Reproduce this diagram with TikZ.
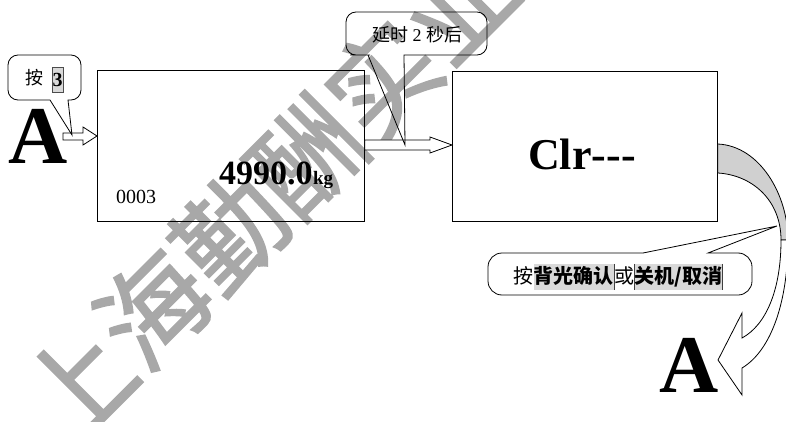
\documentclass[tikz,border=0pt]{standalone}
\usepackage{fontspec}
\setmainfont{Liberation Serif}
\newfontfamily\cjk{Noto Sans CJK SC}
\newfontfamily\cjkwm[FakeBold=1.6]{Noto Sans CJK SC}
\definecolor{hl}{RGB}{217,217,217}
\definecolor{arrowgray}{RGB}{208,208,208}
\definecolor{wmgray}{RGB}{168,168,168}
\begin{document}
\begin{tikzpicture}[x=1pt,y=-1pt,
  frame/.style={draw, line width=0.8pt, inner sep=0pt},
  callout/.style={draw, line width=0.8pt},
  hollow/.style={draw, line width=0.8pt, fill=white, line join=miter},
  txt/.style={anchor=base west, inner sep=0pt},
  hlbox/.style={anchor=base west, inner sep=0pt, fill=hl, text height=19pt, text depth=7pt},
  sideline/.style={draw=black!75, line width=0.6pt}]
\useasboundingbox (0,0) rectangle (786,422);

% watermark
\node[rotate=45, text=wmgray, inner sep=0pt, font=\cjkwm\fontsize{108}{108}\selectfont] (wm) at (268,194) {上海勤酬实业};

% boxes
\node[frame, anchor=north west, minimum width=267pt, minimum height=151pt] (box1) at (97,70) {};
\node[frame, anchor=north west, minimum width=265pt, minimum height=150pt] (box2) at (452,71) {};

% big letters
\node[txt, font=\bfseries\fontsize{82}{82}\selectfont] (A1) at (8,164) {A};
\node[txt, font=\bfseries\fontsize{82}{82}\selectfont] (A2) at (659,392) {A};

% box texts
\node[txt, font=\bfseries\fontsize{34}{34}\selectfont] (val) at (219,184) {4990.0};
\node[txt, font=\bfseries\fontsize{19}{19}\selectfont] (kg) at (val.base east) {kg};
\node[txt, font=\fontsize{20}{20}\selectfont] (num) at (116,203) {0003};
\node[txt, font=\bfseries\fontsize{44}{44}\selectfont] (clr) at (528,170) {Clr\mbox{-}\mbox{-}\mbox{-}};

% hollow arrows
\coordinate (tip1) at (box1.west |- 0,136);
\draw[hollow] (63,133) -- (83,133) -- (83,127) -- (tip1) -- (83,145) -- (83,140) -- (63,140) -- cycle;
\coordinate (tip2) at (box2.west |- 0,145);
\draw[hollow] (box1.east |- 0,140) -- (430,140) -- (430,137) -- (tip2) -- (430,153) -- (430,150) -- (box1.east |- 0,150) -- cycle;

% callout 1
\coordinate (c1tip) at (72,135);
\draw[callout] (50,100) -- (c1tip) -- (68,100) -- (70,100) [rounded corners=10pt] -- (81,100) -- (81,55) -- (8,55) -- (8,100) -- (30,100) [sharp corners] -- cycle;
\node[font=\cjk\fontsize{18}{18}\selectfont, inner sep=0pt] (p1) at (34,78) {按};
\node[fill=hl, draw=black!70, line width=0.5pt, inner sep=0pt, minimum width=11pt, minimum height=25pt, font=\bfseries\fontsize{20}{20}\selectfont] (k3) at (57.5,79.5) {3};

% callout 2
\coordinate (c2tip) at (405,145);
\draw[callout] (368,55) -- (c2tip) -- (404,55) -- (410,55) [rounded corners=10pt] -- (487,55) -- (487,12) -- (346,12) -- (346,55) -- (360,55) [sharp corners] -- cycle;
\node[inner sep=0pt, font=\fontsize{18}{18}\selectfont] (d2) at (417,35) {{\cjk 延时}\ 2\ {\cjk 秒后}};

% curved arrow
\draw[line width=0.8pt, fill=arrowgray] (box2.east |- 0,144) .. controls (760,146) and (788,195) .. (788,240)
  -- (781,240) .. controls (781,200) and (752,175) .. (box2.east |- 0,173) -- cycle;
\draw[line width=0.8pt, fill=white, line join=miter] (788,240) .. controls (788,300) and (772,350) .. (742,368)
  -- (742,395) -- (718,360) -- (742,313) -- (742,338) .. controls (766,325) and (781,290) .. (781,240) -- cycle;

% callout 3
\coordinate (c3tip) at (777,226);
\draw[callout] (643,253) -- (c3tip) -- (708,253) -- (712,253) [rounded corners=14pt] -- (752,253) -- (752,295) -- (488,295) -- (488,253) -- (600,253) [sharp corners] -- cycle;
\node[txt, font=\cjk\fontsize{20}{20}\selectfont] (q1) at (513,283) {按};
\node[hlbox, font=\cjk\bfseries\fontsize{20}{20}\selectfont] (q2) at (q1.base east) {背光确认};
\node[txt, font=\cjk\fontsize{20}{20}\selectfont] (q3) at (q2.base east) {或};
\node[hlbox, font=\cjk\bfseries\fontsize{20}{20}\selectfont] (q4) at (q3.base east) {关机/取消};
\draw[sideline] (q2.north east) -- (q2.south east);
\draw[sideline] (q4.north west) -- (q4.south west);
\draw[sideline] (q4.north east) -- (q4.south east);
\end{tikzpicture}
\end{document}
